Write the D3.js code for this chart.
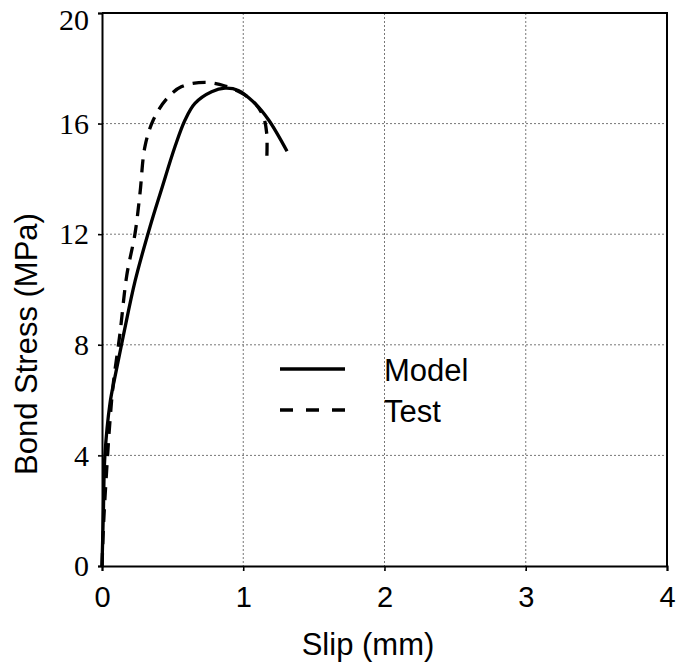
<!DOCTYPE html>
<html>
<head>
<meta charset="utf-8">
<script src="https://cdn.jsdelivr.net/npm/d3@7"></script>
<style>
  body { margin: 0; background: #fff; }
  svg { display: block; }
</style>
</head>
<body>
<div class="container"></div>
<script>
var SVG_WIDTH = 679;
var SVG_HEIGHT = 668;

// slip (mm) / bond stress (MPa)
var modelSlip   = [0, 0.01, 0.02, 0.057, 0.092, 0.15, 0.234, 0.34, 0.42, 0.517, 0.588, 0.658, 0.776, 0.871, 0.965, 1.083, 1.18, 1.31];
var modelStress = [0, 2.0, 3.95, 5.9, 6.85, 8.3, 10.3, 12.27, 13.6, 15.17, 16.13, 16.73, 17.15, 17.28, 17.2, 16.73, 16.13, 15.0];

var testSlip   = [0, 0.012, 0.033, 0.057, 0.08, 0.127, 0.175, 0.234, 0.269, 0.304, 0.363, 0.458, 0.564, 0.729, 0.871, 0.989, 1.083, 1.142, 1.166, 1.166];
var testStress = [0, 1.6, 3.47, 5.28, 6.6, 8.4, 10.5, 12.03, 13.48, 15.17, 16.13, 16.9, 17.34, 17.49, 17.36, 17.1, 16.73, 16.25, 15.65, 14.6];

var xTicks = [0, 1, 2, 3, 4];
var yTicks = [0, 4, 8, 12, 16, 20];
var seriesNames = ["Model", "Test"];

var margin = { left: 102, right: 12, top: 13, bottom: 102 };

var svg = d3.select(".container").append("svg")
    .attr("width", SVG_WIDTH)
    .attr("height", SVG_HEIGHT);

var x = d3.scaleLinear()
    .domain([0, 4])
    .range([margin.left, SVG_WIDTH - margin.right]);

var y = d3.scaleLinear()
    .domain([0, 20])
    .range([SVG_HEIGHT - margin.bottom, margin.top]);

// dotted grid
svg.append("g")
    .selectAll("line")
    .data(xTicks.slice(1, -1))
    .enter().append("line")
    .attr("x1", function (d) { return x(d); })
    .attr("x2", function (d) { return x(d); })
    .attr("y1", y(0) + 5)
    .attr("y2", y(20))
    .attr("stroke", "#777")
    .attr("stroke-width", 1)
    .attr("stroke-dasharray", "2,2");

svg.append("g")
    .selectAll("line")
    .data(yTicks.slice(1, -1))
    .enter().append("line")
    .attr("x1", x(0) - 4)
    .attr("x2", x(4))
    .attr("y1", function (d) { return y(d); })
    .attr("y2", function (d) { return y(d); })
    .attr("stroke", "#777")
    .attr("stroke-width", 1)
    .attr("stroke-dasharray", "2,2");

// frame
svg.append("path")
    .attr("d", "M" + x(0) + "," + y(20) + "H" + x(4) + "V" + y(0))
    .attr("fill", "none")
    .attr("stroke", "#000")
    .attr("stroke-width", 2);

var xAxis = svg.append("g")
    .attr("transform", "translate(0," + y(0) + ")")
    .call(d3.axisBottom(x).tickValues(xTicks).tickSize(5).tickPadding(15).tickFormat(d3.format("d")));
xAxis.select(".domain").attr("stroke-width", 2);
xAxis.selectAll(".tick line").attr("stroke-width", 1.5);
xAxis.selectAll("text")
    .attr("font-family", "'Liberation Sans', Arial, sans-serif")
    .attr("font-size", 29)
    .attr("fill", "#000");

var yAxis = svg.append("g")
    .attr("transform", "translate(" + x(0) + ",0)")
    .call(d3.axisLeft(y).tickValues(yTicks).tickSize(4).tickPadding(9).tickFormat(d3.format("d")));
yAxis.select(".domain").attr("stroke-width", 2);
yAxis.selectAll(".tick line").attr("stroke-width", 1.5);
yAxis.selectAll("text")
    .attr("font-family", "'Liberation Serif', 'Times New Roman', serif")
    .attr("font-size", 30)
    .attr("fill", "#000")
    // top label sits a little below its tick, as in the source
    .attr("dy", function (d) { return d === 20 ? "0.55em" : "0.32em"; });

svg.append("text")
    .attr("x", 368)
    .attr("y", 655)
    .attr("text-anchor", "middle")
    .attr("font-family", "'Liberation Sans', Arial, sans-serif")
    .attr("font-size", 31)
    .text("Slip (mm)");

svg.append("text")
    .attr("transform", "translate(37,344) rotate(-90)")
    .attr("text-anchor", "middle")
    .attr("font-family", "'Liberation Sans', Arial, sans-serif")
    .attr("font-size", 31)
    .text("Bond Stress (MPa)");

var line = d3.line()
    .x(function (d) { return x(d[0]); })
    .y(function (d) { return y(d[1]); })
    .curve(d3.curveCatmullRom.alpha(0.5));

var modelData = d3.zip(modelSlip, modelStress);
var testData = d3.zip(testSlip, testStress);

svg.append("path")
    .datum(modelData)
    .attr("d", line)
    .attr("fill", "none")
    .attr("stroke", "#000")
    .attr("stroke-width", 3.3);

svg.append("path")
    .datum(testData)
    .attr("d", line)
    .attr("fill", "none")
    .attr("stroke", "#000")
    .attr("stroke-width", 3.3)
    .attr("stroke-dasharray", "13,9");

// legend
var legend = svg.append("g").attr("transform", "translate(280,369)");
legend.selectAll("line")
    .data(seriesNames)
    .enter().append("line")
    .attr("x1", 0)
    .attr("x2", 65)
    .attr("y1", function (d, i) { return i * 41; })
    .attr("y2", function (d, i) { return i * 41; })
    .attr("stroke", "#000")
    .attr("stroke-width", 3.3)
    .attr("stroke-dasharray", function (d, i) { return i ? "13,13" : null; });
legend.selectAll("text")
    .data(seriesNames)
    .enter().append("text")
    .attr("x", 104)
    .attr("y", function (d, i) { return i * 41 + 12; })
    .attr("font-family", "'Liberation Sans', Arial, sans-serif")
    .attr("font-size", 31)
    .text(function (d) { return d; });
</script>
</body>
</html>
